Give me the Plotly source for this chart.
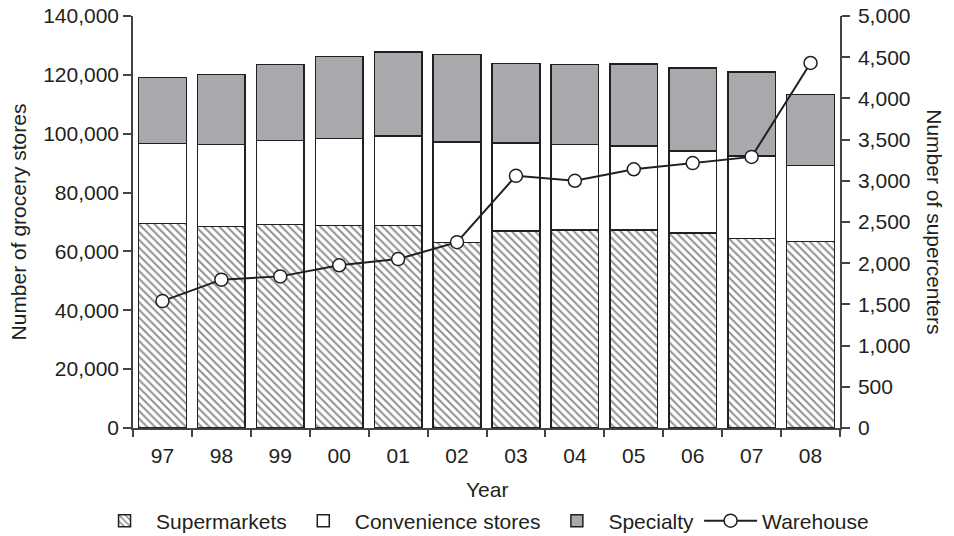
import plotly.graph_objects as go

years = ["97", "98", "99", "00", "01", "02", "03", "04", "05", "06", "07", "08"]
supermarkets = [69500, 68400, 69200, 68800, 68800, 63100, 67000, 67200, 67200, 66200, 64400, 63300]
convenience = [27100, 27900, 28500, 29500, 30500, 34100, 29900, 29100, 28700, 27900, 28100, 25900]
specialty = [22500, 23900, 25900, 27900, 28500, 29700, 26900, 27300, 27800, 28300, 28400, 24200]
warehouse = [1540, 1800, 1840, 1975, 2050, 2255, 3060, 3000, 3140, 3215, 3290, 4430]

DARK = "#231f20"
FONT = "Liberation Sans, Arial, Helvetica, sans-serif"
FS = 21

fig = go.Figure()
fig.add_trace(go.Bar(
    x=years, y=supermarkets, name="Supermarkets",
    marker=dict(color="white", line=dict(color=DARK, width=1.5),
                pattern=dict(shape="\\", fgcolor=DARK, bgcolor="white", size=5.5, solidity=0.35)),
))
fig.add_trace(go.Bar(
    x=years, y=convenience, name="Convenience stores",
    marker=dict(color="white", line=dict(color=DARK, width=1.5)),
))
fig.add_trace(go.Bar(
    x=years, y=specialty, name="Specialty",
    marker=dict(color="#a7a9ac", line=dict(color=DARK, width=1.5)),
))
fig.add_trace(go.Scatter(
    x=years, y=warehouse, name="Warehouse", yaxis="y2", mode="lines+markers",
    line=dict(color=DARK, width=2),
    marker=dict(symbol="circle", size=13, color="white", line=dict(color=DARK, width=1.5)),
))

axis_common = dict(
    showline=True, linecolor="#444", linewidth=1.5, ticks="outside", tickcolor="#444",
    tickwidth=1.5, showgrid=False, zeroline=False, automargin=False,
    ticklabeloverflow="allow",
    tickfont=dict(family=FONT, size=FS, color="#231f20"),
)

fig.update_layout(
    width=946, height=528,
    margin=dict(l=125, r=114, t=8, b=108, autoexpand=False),
    paper_bgcolor="white", plot_bgcolor="white",
    barmode="stack", bargap=0.19,
    font=dict(family=FONT, size=FS, color="#231f20"),
    xaxis=dict(type="category", range=[-0.5, 11.5], tickson="boundaries", ticklen=7,
               ticklabelstandoff=8, **axis_common),
    yaxis=dict(range=[0, 140000], dtick=20000, tickformat=",", ticklen=8,
               ticklabelstandoff=0, **axis_common),
    yaxis2=dict(overlaying="y", side="right", range=[0, 5000], dtick=500, tickformat=",",
                ticklen=8, ticklabelstandoff=4, **axis_common),
    showlegend=True,
    legend=dict(orientation="h", traceorder="normal", x=-0.0565, xanchor="left",
                y=-0.2257, yanchor="middle",
                font=dict(family=FONT, size=FS, color="#231f20"), itemwidth=53),
    annotations=[
        dict(text="Number of grocery stores", xref="paper", yref="paper", x=-0.162, y=0.5,
             textangle=-90, showarrow=False, xanchor="center", yanchor="middle",
             font=dict(family=FONT, size=FS)),
        dict(text="Number of supercenters", xref="paper", yref="paper", x=1.134, y=0.5,
             textangle=90, showarrow=False, xanchor="center", yanchor="middle",
             font=dict(family=FONT, size=FS)),
        dict(text="Year", xref="paper", yref="paper", x=0.5, y=-0.150,
             showarrow=False, xanchor="center", yanchor="middle",
             font=dict(family=FONT, size=FS)),
    ],
)

fig.write_html("out.html")
